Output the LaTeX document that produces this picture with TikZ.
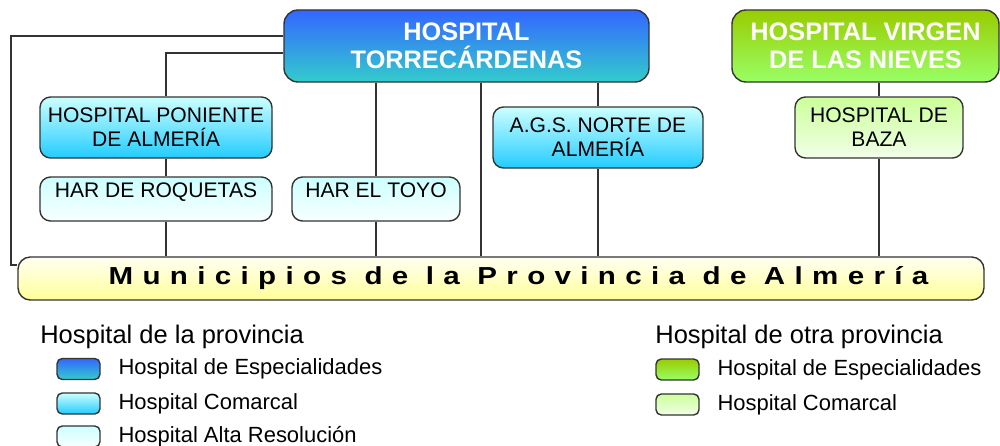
\documentclass[tikz,border=0pt]{standalone}
\usepackage{fontspec}
\setmainfont{Liberation Sans}
\usetikzlibrary{positioning}
\definecolor{EspTop}{HTML}{3366FF}
\definecolor{EspBot}{HTML}{33CCCC}
\definecolor{ComTop}{HTML}{CCFFFF}
\definecolor{ComBot}{HTML}{22CCFF}
\definecolor{AltTop}{HTML}{CCFFFF}
\definecolor{AltBot}{HTML}{F8FFFF}
\definecolor{OtraEspTop}{HTML}{99CC00}
\definecolor{OtraEspBot}{HTML}{99FF66}
\definecolor{OtraComTop}{HTML}{CCFF99}
\definecolor{OtraComBot}{HTML}{F0FFE8}
\definecolor{MuniTop}{HTML}{FFFFF2}
\definecolor{MuniBot}{HTML}{FFFF99}
\definecolor{LineDark}{HTML}{333333}
\tikzset{
  colesp/.style={top color=EspTop, bottom color=EspBot},
  colcom/.style={top color=ComTop, bottom color=ComBot},
  colalt/.style={top color=AltTop, bottom color=AltBot},
  colotraesp/.style={top color=OtraEspTop, bottom color=OtraEspBot},
  colotracom/.style={top color=OtraComTop, bottom color=OtraComBot},
  hbox/.style={draw=LineDark, line width=0.8pt, rounded corners=6pt, align=center, inner sep=2pt, font=\fontsize{12}{13.8}\selectfont},
  especial/.style={hbox, rounded corners=8pt, minimum height=1.44cm, text=white, font=\fontsize{14.4}{16}\selectfont\bfseries},
  comarcal/.style={hbox, minimum height=1.22cm},
  altares/.style={hbox, minimum height=0.88cm, text height=0.3cm, text depth=0.36cm},
  munibox/.style={hbox, rounded corners=7pt, top color=MuniTop, bottom color=MuniBot, minimum height=0.86cm, font=\fontsize{14}{15}\selectfont\bfseries\addfontfeature{FakeStretch=1.2, LetterSpace=38}},
  swatch/.style={draw=LineDark, line width=0.8pt, rounded corners=3pt, minimum width=0.86cm, minimum height=0.42cm, inner sep=0pt},
  legtitle/.style={anchor=west, inner sep=0pt, font=\fontsize{14.5}{16}\selectfont},
  legitem/.style={inner sep=0pt, font=\fontsize{12.5}{14}\selectfont},
  link/.style={draw=LineDark, line width=0.8pt}
}
\begin{document}
\begin{tikzpicture}
\useasboundingbox (0,0) rectangle (20,-8.92);
% hospitales
\node[especial, colesp, minimum width=7.3cm] (torre) at (9.33,-0.92) {HOSPITAL\\TORRECÁRDENAS};
\node[especial, colotraesp, minimum width=5.34cm] (nieves) at (17.31,-0.92) {HOSPITAL VIRGEN\\DE LAS NIEVES};
\node[comarcal, colcom, minimum width=4.64cm] (poniente) at (3.12,-2.55) {HOSPITAL PONIENTE\\DE ALMERÍA};
\node[comarcal, colcom, minimum width=4.2cm] (ags) at (11.96,-2.75) {A.G.S. NORTE DE\\ALMERÍA};
\node[comarcal, colotracom, minimum width=3.36cm] (baza) at (17.58,-2.55) {HOSPITAL DE\\BAZA};
\node[altares, colalt, minimum width=4.64cm] (roquetas) at (3.12,-3.98) {HAR DE ROQUETAS};
\node[altares, colalt, minimum width=3.36cm] (toyo) at (7.52,-3.98) {HAR EL TOYO};
\node[munibox, minimum width=19.32cm] (muni) at (10.02,-5.57) {\hspace*{0.7cm}Municipios de la Provincia de Almería};
% conexiones
\coordinate (codo) at (0.22,-5.30);
\draw[link] ([yshift=0.2cm]torre.west) -| (codo) -- (codo -| muni.west);
\draw[link] ([yshift=-0.14cm]torre.west) -| ([xshift=0.2cm]poniente.north);
\draw[link] ([xshift=0.2cm]poniente.south) -- ([xshift=0.2cm]roquetas.north);
\draw[link] ([xshift=0.2cm]roquetas.south) -- ([xshift=0.2cm]roquetas.south |- muni.north);
\draw[link] (toyo.north |- torre.south) -- (toyo.north);
\draw[link] (toyo.south) -- (toyo.south |- muni.north);
\draw[link] ([xshift=0.29cm]torre.south) -- ([xshift=0.29cm]torre.south |- muni.north);
\draw[link] (ags.north |- torre.south) -- (ags.north);
\draw[link] (ags.south) -- (ags.south |- muni.north);
\draw[link] (baza.north |- nieves.south) -- (baza.north);
\draw[link] (baza.south) -- (baza.south |- muni.north);
% leyenda
\node[legtitle] (leyprov) at (0.80,-6.74) {Hospital de la provincia};
\node[swatch, colesp] (sw1) at (1.57,-7.38) {};
\node[swatch, colcom] (sw2) at (1.57,-8.07) {};
\node[swatch, colalt] (sw3) at (1.57,-8.73) {};
\node[legitem, right=0.35cm of sw1] {Hospital de Especialidades};
\node[legitem, right=0.35cm of sw2] {Hospital Comarcal};
\node[legitem, right=0.35cm of sw3] {Hospital Alta Resolución};
\node[legtitle] (leyotra) at (13.1,-6.74) {Hospital de otra provincia};
\node[swatch, colotraesp] (sw4) at (13.55,-7.39) {};
\node[swatch, colotracom] (sw5) at (13.55,-8.09) {};
\node[legitem, right=0.35cm of sw4] {Hospital de Especialidades};
\node[legitem, right=0.35cm of sw5] {Hospital Comarcal};
\end{tikzpicture}
\end{document}
